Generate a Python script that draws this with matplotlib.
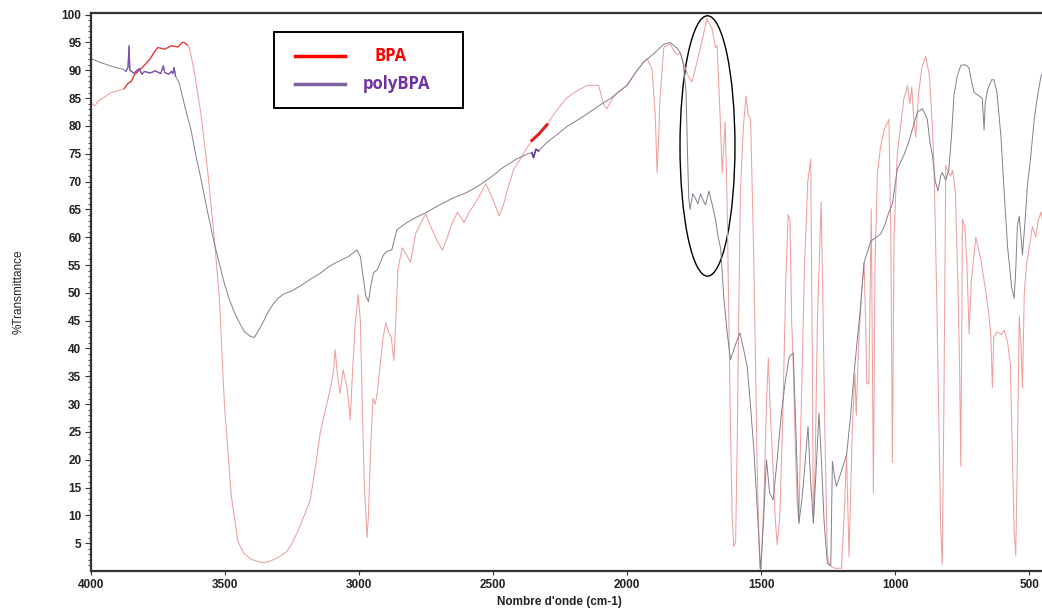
import numpy as np
import matplotlib.pyplot as plt
from matplotlib.patches import Ellipse, Rectangle
from matplotlib.lines import Line2D

# Spectres IR (nombre d'onde en cm-1, %T)
wn_bpa = [4000, 3985, 3975, 3950, 3925, 3900, 3876, 3863, 3850, 3838, 3820, 3801, 3780, 3765, 3751,
          3725, 3701, 3675, 3660, 3651, 3640, 3633, 3614, 3589, 3564, 3539, 3521, 3502, 3477, 3452,
          3430, 3403, 3370, 3353, 3330, 3303, 3270, 3253, 3230, 3200, 3182, 3165, 3145, 3125, 3108,
          3095, 3089, 3080, 3071, 3065, 3059, 3052, 3045, 3038, 3033, 3025, 3015, 3003, 2995, 2988,
          2980, 2970, 2965, 2960, 2955, 2948, 2940, 2932, 2920, 2910, 2900, 2890, 2880, 2870, 2862,
          2855, 2839, 2825, 2808, 2789, 2770, 2751, 2733, 2710, 2689, 2670, 2658, 2633, 2620, 2608,
          2590, 2571, 2550, 2527, 2502, 2477, 2460, 2448, 2423, 2398, 2373, 2355, 2330, 2299, 2286,
          2260, 2224, 2190, 2149, 2106, 2087, 2075, 2060, 2040, 2020, 2000, 1970, 1938, 1925, 1907,
          1895, 1888, 1882, 1878, 1863, 1850, 1838, 1828, 1813, 1802, 1791, 1772, 1758, 1739, 1716,
          1702, 1695, 1683, 1670, 1664, 1653, 1645, 1634, 1627, 1620, 1614, 1608, 1602, 1595, 1589,
          1583, 1577, 1566, 1556, 1548, 1539, 1527, 1514, 1505, 1500, 1490, 1480, 1473, 1465, 1455,
          1448, 1440, 1430, 1418, 1408, 1399, 1392, 1386, 1380, 1372, 1365, 1359, 1350, 1338, 1326,
          1315, 1310, 1305, 1298, 1290, 1276, 1270, 1262, 1253, 1245, 1225, 1200, 1190, 1181, 1172,
          1160, 1150, 1145, 1135, 1122, 1116, 1110, 1106, 1098, 1089, 1081, 1075,
          1066, 1055, 1041, 1023, 1016, 1010, 1004, 992, 967, 960, 954, 945, 938, 930, 923,
          912, 900, 886, 872, 861, 855, 845, 838, 830, 824, 818, 811, 800, 793, 785,
          775, 765, 759, 755, 751, 749, 740, 732, 724, 716, 699, 680, 662, 650, 643,
          637, 632, 620, 605, 593, 580, 570, 562, 556, 550, 544, 537, 530, 525, 518,
          510, 500, 488, 475, 466, 456, 450]
t_bpa = [84.1, 83.6, 84.4, 85.2, 86.0, 86.3, 86.7, 87.6, 88.0, 89.2, 90.0, 90.9, 92.0, 93.2, 94.1,
         93.8, 94.4, 94.2, 95.0, 95.0, 94.5, 94.1, 89.6, 81.9, 71.6, 59.3, 49.0, 29.8, 13.7, 5.3,
         3.2, 2.1, 1.6, 1.5, 1.8, 2.4, 3.5, 4.7, 7.0, 10.5, 12.8, 18.0, 24.8, 29.0, 32.6,
         36.0, 39.8, 35.0, 31.9, 34.0, 36.2, 34.5, 33.0, 30.0, 27.2, 35.0, 44.0, 49.7, 45.0, 30.0,
         15.0, 6.0, 10.0, 17.0, 24.0, 31.0, 30.0, 32.0, 37.6, 42.0, 44.6, 43.0, 42.0, 37.8, 46.0,
         54.2, 58.1, 57.0, 55.5, 60.6, 62.5, 64.2, 62.0, 59.5, 57.7, 60.0, 61.9, 64.5, 63.5, 62.6,
         64.5, 65.8, 67.5, 69.6, 67.0, 63.8, 66.0, 68.3, 72.2, 74.1, 76.1, 77.4, 78.5, 80.2, 81.2,
         83.0, 85.1, 86.2, 87.3, 87.3, 83.8, 83.1, 84.5, 85.8, 86.5, 87.3, 89.5, 91.5, 92.1, 90.2,
         82.0, 71.6, 78.0, 84.4, 94.1, 94.5, 94.7, 93.7, 92.8, 93.1, 91.5, 89.0, 87.9, 91.5, 96.2,
         99.3, 98.5, 97.5, 94.1, 94.4, 81.8, 71.6, 80.7, 66.8, 45.0, 25.3, 10.0, 4.4, 5.3, 23.3,
         48.0, 68.4, 80.0, 85.4, 82.0, 81.2, 55.5, 16.9, 0.5, 0.3, 12.0, 30.0, 38.3, 28.0, 18.0,
         10.0, 4.7, 10.0, 30.0, 52.0, 64.1, 63.0, 45.0, 37.0, 22.0, 12.0, 8.6, 30.0, 55.0, 70.0,
         74.0, 45.0, 8.6, 20.0, 45.0, 66.3, 50.0, 25.0, 3.0, 1.0, 0.5, 0.5, 10.0, 21.0, 2.6,
         25.0, 35.6, 28.0, 42.0, 52.0, 55.4, 45.0, 33.8, 33.6, 65.1, 14.0, 55.0,
         71.6, 76.0, 79.3, 81.2, 60.0, 19.5, 60.0, 75.0, 85.0, 86.0, 87.3, 84.0, 87.0, 81.0, 78.0,
         86.0, 90.5, 92.5, 89.0, 80.0, 72.9, 50.0, 30.0, 8.0, 1.2, 30.0, 72.9, 71.5, 71.0, 72.0,
         68.0, 50.0, 35.0, 18.8, 45.0, 63.2, 62.0, 55.0, 42.6, 52.0, 60.0, 56.0, 50.3, 46.0, 42.6,
         33.0, 42.0, 43.0, 42.5, 43.3, 41.0, 37.0, 20.0, 7.3, 2.8, 20.0, 45.9, 40.0, 33.0, 50.0,
         55.0, 58.0, 61.9, 60.0, 63.0, 64.5, 63.0]

wn_poly = [4000, 3970, 3940, 3907, 3880, 3870, 3862, 3858, 3855, 3840, 3820, 3810, 3800, 3780, 3760,
           3740, 3730, 3725, 3710, 3700, 3695, 3690, 3685, 3670, 3650, 3627, 3610, 3589, 3565, 3539,
           3520, 3502, 3485, 3465, 3445, 3427, 3403, 3390, 3378, 3360, 3340, 3320, 3303, 3280, 3253,
           3220, 3180, 3145, 3110, 3083, 3040, 3008, 2995, 2985, 2975, 2965, 2955, 2946, 2931, 2909,
           2895, 2878, 2859, 2840, 2822, 2790, 2747, 2700, 2647, 2600, 2573, 2530, 2486, 2473, 2411,
           2370, 2355, 2349, 2340, 2330, 2300, 2260, 2224, 2160, 2100, 2060, 2030, 2000, 1970, 1938,
           1900, 1863, 1838, 1820, 1813, 1800, 1790, 1780, 1775, 1770, 1765, 1755, 1745, 1736, 1726,
           1715, 1707, 1695, 1682, 1670, 1660, 1651, 1639, 1626, 1614, 1597, 1579, 1566, 1552, 1540,
           1527, 1513, 1502, 1492, 1480, 1468, 1455, 1440, 1425, 1410, 1395, 1380, 1370,
           1359, 1350, 1343, 1325, 1315, 1305, 1295, 1284, 1275, 1265, 1253, 1240, 1234, 1226, 1219,
           1200, 1181, 1166, 1153, 1130, 1116, 1091, 1070, 1054, 1040, 1023, 1010, 992, 967, 950,
           936, 917, 898, 880, 870, 861, 850, 840, 830, 824, 811, 800, 790, 780, 768,
           755, 740, 725, 715, 705, 690, 675, 668, 664, 655, 640, 631, 620, 605, 593,
           580, 565, 556, 550, 544, 537, 530, 525, 515, 506, 495, 481, 470, 456, 450]
t_poly = [92.1, 91.5, 91.0, 90.5, 90.2, 89.8, 90.5, 94.4, 90.0, 89.5, 90.3, 89.3, 89.8, 89.5, 89.9,
          89.4, 90.8, 89.6, 89.3, 89.8, 89.4, 90.5, 89.0, 87.6, 83.5, 79.3, 75.0, 70.3, 64.5, 58.7,
          55.0, 51.6, 49.0, 46.5, 44.5, 43.0, 42.1, 42.0, 43.0, 44.5, 46.5, 48.0, 49.0, 49.8, 50.3,
          51.2, 52.5, 53.5, 54.8, 55.5, 56.5, 57.7, 56.5, 53.0, 49.5, 48.4, 51.5, 53.6, 54.2, 56.8,
          57.5, 57.7, 61.3, 62.0, 62.6, 63.5, 64.5, 65.8, 67.1, 68.0, 68.7, 70.0, 71.6, 72.2, 74.1,
          75.0, 75.2, 74.3, 75.8, 75.5, 77.0, 78.5, 79.9, 81.8, 83.8, 85.0, 86.2, 87.3, 89.5, 91.5,
          93.0, 94.7, 95.0, 94.2, 94.0, 93.0, 91.0, 86.0, 76.0, 67.0, 65.0, 67.8, 67.0, 66.0, 67.8,
          66.5, 65.8, 68.3, 65.8, 63.2, 60.0, 58.0, 49.0, 42.6, 38.0, 40.5, 42.8, 40.0, 36.8, 30.0,
          21.8, 10.0, 0.3, 8.0, 20.0, 14.0, 12.8, 20.0, 28.0, 34.0, 38.5, 39.2, 25.0,
          8.6, 12.0, 15.2, 26.0, 16.0, 8.6, 18.0, 28.4, 20.0, 9.0, 1.4, 1.0, 19.7, 17.0, 15.2,
          18.0, 20.9, 28.0, 35.6, 47.0, 55.4, 59.3, 60.0, 60.6, 62.0, 64.5, 66.0, 72.2, 74.8, 77.0,
          79.3, 82.5, 83.1, 81.2, 77.0, 74.8, 70.0, 68.3, 71.0, 71.6, 70.3, 72.0, 78.0, 85.7, 89.0,
          90.9, 91.0, 90.5, 88.0, 86.0, 85.5, 85.0, 79.3, 84.0, 86.5, 88.3, 88.3, 86.0, 78.0, 68.0,
          58.0, 51.0, 49.0, 54.0, 61.9, 63.8, 60.0, 56.8, 63.0, 69.6, 74.0, 81.2, 85.0, 88.9, 89.5]

x_ticks = [4000, 3500, 3000, 2500, 2000, 1500, 1000, 500]
y_ticks = list(range(5, 101, 5))

wn_bpa = np.array(wn_bpa)
t_bpa = np.array(t_bpa)
wn_poly = np.array(wn_poly)
t_poly = np.array(t_poly)

fig = plt.figure(figsize=(10.42, 6.09), dpi=100)
ax = fig.add_axes([91 / 1042, 38 / 609, 951 / 1042, 558 / 609])

ax.plot(wn_bpa, t_bpa, color='#ee9f9f', lw=0.75)
ax.plot(wn_poly, t_poly, color='#857d8c', lw=0.7)

# zones bruitées, plus saturées sur l'original
m = (wn_bpa <= 3880) & (wn_bpa >= 3640)
ax.plot(wn_bpa[m], t_bpa[m], color='#e03a3a', lw=0.9)
m = (wn_poly <= 3870) & (wn_poly >= 3685)
ax.plot(wn_poly[m], t_poly[m], color='#7a4fb0', lw=0.9)
m = (wn_bpa <= 2360) & (wn_bpa >= 2295)
ax.plot(wn_bpa[m], t_bpa[m], color='#e02020', lw=2.2)
m = (wn_poly <= 2360) & (wn_poly >= 2330)
ax.plot(wn_poly[m], t_poly[m], color='#5a3a9a', lw=1.2)

ax.set_xlim(4000, 452)
ax.set_ylim(0, 100.3)

ax.set_xticks(x_ticks)
ax.set_yticks(y_ticks)
ax.set_yticks(range(1, 101), minor=True)
ax.tick_params(axis='both', direction='out', colors='#333333', width=0.8)
ax.tick_params(axis='y', which='major', length=4, pad=3)
ax.tick_params(axis='y', which='minor', length=2, width=0.5)
ax.tick_params(axis='x', which='major', length=3, pad=3)
for lab in ax.get_xticklabels() + ax.get_yticklabels():
    lab.set_fontfamily('Liberation Sans')
    lab.set_fontweight('bold')
    lab.set_fontsize(8.5)
    lab.set_color('#222222')

for s in ['left', 'bottom', 'top']:
    ax.spines[s].set_color('#333333')
    ax.spines[s].set_linewidth(1.6)
ax.spines['right'].set_visible(False)

ax.set_xlabel("Nombre d'onde (cm-1)", fontfamily='Liberation Sans', fontweight='bold',
              fontsize=8.5, color='#222222')
ax.xaxis.set_label_coords(0.493, -0.045)
ax.set_ylabel('%Transmittance', fontfamily='Liberation Sans', fontsize=8.5, color='#222222')
ax.yaxis.set_label_coords(-0.070, 0.5)

# ellipse autour de la bande C=O
ax.add_patch(Ellipse((1700, 76.4), 205, 46.8, fill=False, ec='black', lw=1.0))

# légende dessinée comme sur l'original
def fx(px):
    return px / 1042

def fy(py):
    return 1 - py / 609

fig.patches.append(Rectangle((fx(274), fy(108)), fx(463) - fx(274), fy(32) - fy(108),
                             transform=fig.transFigure, fill=True, fc='white',
                             ec='black', lw=1.4, zorder=5))
fig.lines.append(Line2D([fx(295), fx(345)], [fy(56), fy(56)], transform=fig.transFigure,
                        color='#ff0000', lw=2.5, zorder=6))
fig.lines.append(Line2D([fx(295), fx(345)], [fy(84), fy(84)], transform=fig.transFigure,
                        color='#8064a2', lw=2.5, zorder=6))
fig.text(fx(375), fy(56), 'BPA', color='#ff0000', fontfamily='Open Sans', fontweight='bold',
         fontsize=12, va='center', ha='left', zorder=7)
fig.text(fx(363), fy(84), 'polyBPA', color='#7030a0', fontfamily='Open Sans', fontweight='bold',
         fontsize=12, va='center', ha='left', zorder=7)

fig.savefig('out.png', dpi=100)
